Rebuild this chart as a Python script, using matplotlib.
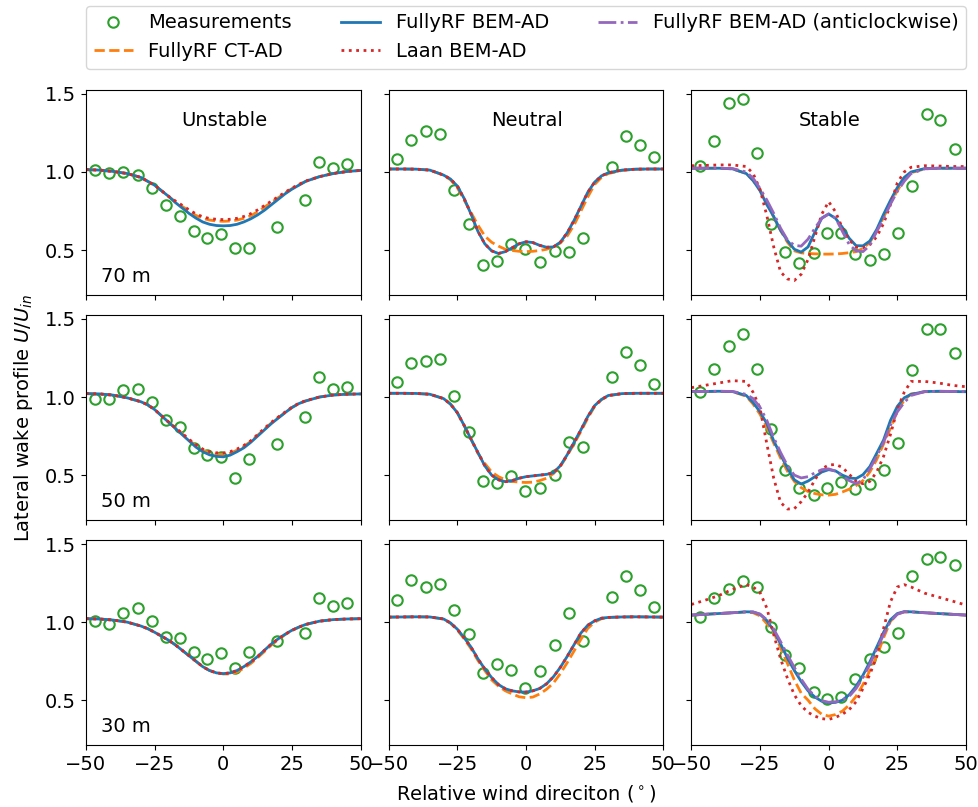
import matplotlib
matplotlib.use("Agg")
import matplotlib.pyplot as plt

# angle grid of the model curves (deg)
ang = [-50, -45, -40, -35, -30, -27.5, -25, -22.5, -20, -17.5, -15, -12.5, -10, -7.5, -5, -2.5, 0,
       2.5, 5, 7.5, 10, 12.5, 15, 17.5, 20, 22.5, 25, 27.5, 30, 35, 40, 45, 50]

# measurement angles per stability class
ang_unstable = [-46.7, -41.5, -36.4, -31.2, -26.1, -21.0, -15.9, -10.8, -5.8, -0.7, 4.4, 9.5,
                19.7, 29.7, 35.0, 40.0, 45.2]
ang_neutral = [-47.0, -41.8, -36.5, -31.2, -26.1, -20.9, -15.7, -10.5, -5.4, -0.2, 5.2, 10.4,
               15.6, 20.8, 31.2, 36.4, 41.5, 46.7]
ang_stable = [-47.0, -41.6, -36.4, -31.3, -26.2, -21.0, -15.8, -10.7, -5.4, -0.5, 4.5, 9.7,
              15.0, 20.2, 25.3, 30.4, 35.7, 40.7, 46.0]

# measurements
meas_u70 = [1.01, 0.996, 1.002, 0.983, 0.90, 0.788, 0.72, 0.624, 0.577, 0.604, 0.51, 0.51,
            0.649, 0.818, 1.066, 1.026, 1.049]
meas_u50 = [0.99, 0.985, 1.043, 1.049, 0.968, 0.853, 0.805, 0.672, 0.626, 0.613, 0.483, 0.604,
            0.70, 0.87, 1.128, 1.049, 1.062]
meas_u30 = [1.006, 0.985, 1.056, 1.092, 1.006, 0.907, 0.896, 0.806, 0.761, 0.80, 0.704, 0.811,
            0.878, 0.932, 1.156, 1.105, 1.12]
meas_n70 = [1.085, 1.203, 1.265, 1.244, 0.887, 0.669, 0.404, 0.427, 0.536, 0.506, 0.425, 0.494,
            0.49, 0.579, 1.03, 1.233, 1.175, 1.094]
meas_n50 = [1.096, 1.215, 1.228, 1.245, 1.006, 0.777, 0.462, 0.451, 0.496, 0.396, 0.415, 0.504,
            0.711, 0.681, 1.126, 1.29, 1.202, 1.083]
meas_n30 = [1.139, 1.269, 1.224, 1.241, 1.075, 0.921, 0.676, 0.729, 0.691, 0.58, 0.687, 0.851,
            1.06, 0.878, 1.16, 1.294, 1.207, 1.096]
meas_s70 = [1.04, 1.20, 1.442, 1.47, 1.122, 0.67, 0.485, 0.419, 0.478, 0.606, 0.606, 0.474,
            0.438, 0.476, 0.611, 0.912, 1.372, 1.331, 1.149]
meas_s50 = [1.032, 1.177, 1.33, 1.405, 1.179, 0.794, 0.53, 0.417, 0.372, 0.419, 0.457, 0.409,
            0.441, 0.53, 0.704, 1.172, 1.437, 1.437, 1.283]
meas_s30 = [1.032, 1.156, 1.209, 1.262, 1.228, 0.968, 0.787, 0.704, 0.555, 0.505, 0.52, 0.638,
            0.766, 0.84, 0.932, 1.294, 1.406, 1.418, 1.363]

# FullyRF CT-AD
ct_u70 = [1.015, 1.012, 1.003, 0.99, 0.965, 0.94, 0.915, 0.88, 0.845, 0.81, 0.78, 0.75, 0.722,
          0.703, 0.692, 0.686, 0.684, 0.686, 0.692, 0.703, 0.72, 0.745, 0.775, 0.805, 0.835,
          0.865, 0.893, 0.917, 0.94, 0.97, 0.99, 1.003, 1.01]
ct_u50 = [1.022, 1.02, 1.012, 0.995, 0.97, 0.95, 0.92, 0.88, 0.84, 0.802, 0.765, 0.725, 0.688,
          0.66, 0.642, 0.634, 0.632, 0.64, 0.66, 0.684, 0.716, 0.755, 0.795, 0.834, 0.868, 0.9,
          0.933, 0.958, 0.975, 1.0, 1.013, 1.018, 1.02]
ct_u30 = [1.022, 1.02, 1.013, 1.0, 0.975, 0.958, 0.935, 0.91, 0.885, 0.855, 0.82, 0.785, 0.75,
          0.715, 0.69, 0.675, 0.668, 0.668, 0.68, 0.705, 0.735, 0.772, 0.812, 0.853, 0.888,
          0.92, 0.946, 0.967, 0.985, 1.006, 1.016, 1.02, 1.022]
ct_n70 = [1.019, 1.019, 1.018, 1.012, 0.98, 0.95, 0.9, 0.82, 0.74, 0.66, 0.59, 0.55, 0.525,
          0.505, 0.497, 0.492, 0.49, 0.492, 0.497, 0.505, 0.52, 0.545, 0.59, 0.66, 0.75, 0.84,
          0.92, 0.965, 0.99, 1.01, 1.017, 1.019, 1.019]
ct_n50 = [1.024, 1.024, 1.023, 1.018, 0.99, 0.955, 0.9, 0.818, 0.73, 0.64, 0.575, 0.52, 0.49,
          0.47, 0.46, 0.455, 0.453, 0.455, 0.465, 0.48, 0.51, 0.555, 0.625, 0.70, 0.78, 0.865,
          0.94, 0.983, 1.008, 1.022, 1.024, 1.024, 1.024]
ct_n30 = [1.032, 1.033, 1.034, 1.033, 1.02, 0.993, 0.95, 0.893, 0.83, 0.755, 0.69, 0.63, 0.59,
          0.56, 0.54, 0.522, 0.516, 0.52, 0.54, 0.57, 0.61, 0.67, 0.74, 0.815, 0.89, 0.96,
          1.0, 1.022, 1.03, 1.033, 1.034, 1.033, 1.032]
ct_s70 = [1.024, 1.024, 1.024, 1.02, 0.99, 0.945, 0.885, 0.805, 0.71, 0.625, 0.55, 0.495, 0.482,
          0.478, 0.476, 0.474, 0.474, 0.475, 0.478, 0.483, 0.49, 0.51, 0.55, 0.62, 0.71, 0.80,
          0.88, 0.95, 0.995, 1.02, 1.024, 1.024, 1.024]
ct_s50 = [1.035, 1.035, 1.035, 1.035, 1.005, 0.955, 0.89, 0.805, 0.705, 0.61, 0.525, 0.46, 0.42,
          0.395, 0.382, 0.374, 0.372, 0.377, 0.392, 0.41, 0.433, 0.465, 0.52, 0.60, 0.70, 0.80,
          0.91, 0.98, 1.02, 1.034, 1.035, 1.035, 1.035]
ct_s30 = [1.045, 1.05, 1.055, 1.06, 1.065, 1.06, 1.04, 0.99, 0.935, 0.835, 0.735, 0.63, 0.545,
          0.50, 0.445, 0.41, 0.398, 0.408, 0.43, 0.47, 0.525, 0.60, 0.69, 0.78, 0.90, 1.005,
          1.052, 1.065, 1.066, 1.06, 1.055, 1.05, 1.045]

# FullyRF BEM-AD
bem_u70 = [1.015, 1.012, 1.003, 0.99, 0.965, 0.94, 0.915, 0.88, 0.845, 0.805, 0.77, 0.735, 0.705,
           0.68, 0.665, 0.657, 0.655, 0.657, 0.665, 0.68, 0.70, 0.725, 0.755, 0.79, 0.825, 0.86,
           0.89, 0.915, 0.94, 0.97, 0.99, 1.003, 1.01]
bem_u50 = [1.022, 1.02, 1.012, 0.995, 0.97, 0.95, 0.92, 0.88, 0.84, 0.80, 0.76, 0.72, 0.68,
           0.65, 0.63, 0.62, 0.617, 0.628, 0.65, 0.675, 0.71, 0.75, 0.79, 0.83, 0.865, 0.90,
           0.933, 0.958, 0.975, 1.0, 1.013, 1.018, 1.02]
bem_u30 = [1.022, 1.02, 1.013, 1.0, 0.975, 0.958, 0.935, 0.91, 0.885, 0.855, 0.82, 0.785, 0.75,
           0.715, 0.69, 0.675, 0.67, 0.675, 0.69, 0.715, 0.745, 0.78, 0.82, 0.86, 0.893, 0.922,
           0.948, 0.968, 0.985, 1.006, 1.016, 1.02, 1.022]
bem_n70 = [1.019, 1.019, 1.018, 1.012, 0.98, 0.955, 0.91, 0.83, 0.73, 0.62, 0.54, 0.495, 0.478,
           0.49, 0.515, 0.54, 0.553, 0.548, 0.53, 0.518, 0.52, 0.55, 0.61, 0.69, 0.78, 0.87,
           0.935, 0.975, 0.995, 1.012, 1.018, 1.019, 1.019]
bem_n50 = [1.024, 1.024, 1.023, 1.018, 0.99, 0.955, 0.90, 0.818, 0.73, 0.645, 0.56, 0.50, 0.47,
           0.458, 0.465, 0.48, 0.49, 0.495, 0.50, 0.505, 0.515, 0.56, 0.63, 0.71, 0.79, 0.875,
           0.945, 0.985, 1.01, 1.022, 1.024, 1.024, 1.024]
bem_n30 = [1.032, 1.033, 1.034, 1.033, 1.02, 0.995, 0.955, 0.90, 0.84, 0.765, 0.70, 0.645, 0.60,
           0.573, 0.56, 0.553, 0.552, 0.56, 0.575, 0.605, 0.65, 0.71, 0.78, 0.855, 0.93, 0.98,
           1.008, 1.025, 1.03, 1.033, 1.034, 1.033, 1.032]
bem_s70 = [1.024, 1.024, 1.024, 1.02, 0.99, 0.945, 0.88, 0.79, 0.715, 0.626, 0.56, 0.505, 0.487,
           0.52, 0.615, 0.705, 0.731, 0.703, 0.645, 0.575, 0.528, 0.527, 0.558, 0.632, 0.729,
           0.818, 0.90, 0.965, 1.0, 1.022, 1.024, 1.024, 1.024]
bem_s50 = [1.035, 1.036, 1.037, 1.035, 1.01, 0.965, 0.905, 0.83, 0.72, 0.63, 0.545, 0.47, 0.443,
           0.462, 0.49, 0.52, 0.535, 0.527, 0.50, 0.482, 0.478, 0.503, 0.555, 0.64, 0.725, 0.85,
           0.94, 0.995, 1.017, 1.035, 1.037, 1.035, 1.034]
bem_s30 = [1.045, 1.05, 1.055, 1.06, 1.066, 1.065, 1.05, 1.01, 0.945, 0.86, 0.77, 0.69, 0.62,
           0.56, 0.52, 0.493, 0.483, 0.486, 0.50, 0.535, 0.59, 0.66, 0.745, 0.84, 0.935, 1.015,
           1.055, 1.067, 1.066, 1.06, 1.055, 1.05, 1.045]

# Laan BEM-AD
laan_u70 = [1.015, 1.012, 1.003, 0.99, 0.965, 0.94, 0.915, 0.88, 0.845, 0.815, 0.787, 0.758,
            0.732, 0.713, 0.702, 0.697, 0.695, 0.697, 0.703, 0.715, 0.733, 0.757, 0.785, 0.813,
            0.842, 0.87, 0.897, 0.92, 0.942, 0.97, 0.99, 1.003, 1.01]
laan_u50 = [1.022, 1.02, 1.012, 0.995, 0.97, 0.95, 0.92, 0.88, 0.842, 0.805, 0.768, 0.73,
            0.695, 0.667, 0.65, 0.643, 0.642, 0.65, 0.667, 0.69, 0.72, 0.76, 0.80, 0.838, 0.872,
            0.904, 0.935, 0.96, 0.977, 1.0, 1.013, 1.018, 1.02]
laan_u30 = [1.022, 1.02, 1.013, 1.0, 0.975, 0.958, 0.935, 0.91, 0.885, 0.855, 0.82, 0.785, 0.75,
            0.715, 0.69, 0.675, 0.67, 0.675, 0.69, 0.715, 0.745, 0.78, 0.82, 0.86, 0.893, 0.922,
            0.948, 0.968, 0.985, 1.006, 1.016, 1.02, 1.022]
laan_n70 = [1.019, 1.019, 1.018, 1.012, 0.98, 0.955, 0.91, 0.83, 0.73, 0.62, 0.54, 0.495, 0.478,
            0.49, 0.515, 0.54, 0.553, 0.548, 0.53, 0.518, 0.52, 0.55, 0.61, 0.69, 0.78, 0.87,
            0.935, 0.975, 0.995, 1.012, 1.018, 1.019, 1.019]
laan_n50 = [1.024, 1.024, 1.023, 1.018, 0.99, 0.955, 0.90, 0.818, 0.73, 0.645, 0.56, 0.50, 0.47,
            0.458, 0.465, 0.48, 0.49, 0.495, 0.50, 0.505, 0.515, 0.56, 0.63, 0.71, 0.79, 0.875,
            0.945, 0.985, 1.01, 1.022, 1.024, 1.024, 1.024]
laan_n30 = [1.032, 1.033, 1.034, 1.033, 1.02, 0.995, 0.955, 0.90, 0.84, 0.765, 0.70, 0.645,
            0.60, 0.573, 0.56, 0.553, 0.552, 0.56, 0.575, 0.605, 0.65, 0.71, 0.78, 0.855, 0.93,
            0.98, 1.008, 1.025, 1.03, 1.033, 1.034, 1.033, 1.032]
laan_s70 = [1.04, 1.042, 1.045, 1.045, 1.035, 0.99, 0.89, 0.72, 0.52, 0.36, 0.315, 0.305, 0.345,
            0.44, 0.585, 0.73, 0.81, 0.745, 0.64, 0.565, 0.52, 0.515, 0.535, 0.585, 0.67, 0.79,
            0.93, 1.0, 1.03, 1.04, 1.038, 1.035, 1.035]
laan_s50 = [1.06, 1.075, 1.09, 1.105, 1.10, 1.03, 0.93, 0.70, 0.48, 0.325, 0.283, 0.285, 0.33,
            0.39, 0.47, 0.54, 0.565, 0.568, 0.55, 0.505, 0.46, 0.445, 0.46, 0.52, 0.62, 0.76,
            0.92, 1.03, 1.10, 1.10, 1.09, 1.075, 1.066]
laan_s30 = [1.113, 1.14, 1.17, 1.21, 1.24, 1.225, 1.19, 1.09, 0.92, 0.765, 0.64, 0.535, 0.465,
            0.422, 0.398, 0.382, 0.377, 0.39, 0.41, 0.44, 0.49, 0.575, 0.665, 0.78, 0.96, 1.13,
            1.225, 1.24, 1.225, 1.185, 1.16, 1.135, 1.109]

# FullyRF BEM-AD (anticlockwise), stable only
anti_s70 = [1.024, 1.024, 1.024, 1.022, 1.0, 0.96, 0.895, 0.82, 0.735, 0.64, 0.565, 0.53, 0.525,
            0.57, 0.64, 0.703, 0.731, 0.705, 0.62, 0.535, 0.495, 0.49, 0.53, 0.62, 0.70, 0.795,
            0.875, 0.94, 0.99, 1.02, 1.024, 1.024, 1.024]
anti_s50 = [1.035, 1.036, 1.037, 1.036, 1.017, 0.99, 0.935, 0.85, 0.74, 0.645, 0.56, 0.50, 0.482,
            0.49, 0.515, 0.535, 0.54, 0.525, 0.495, 0.465, 0.445, 0.47, 0.54, 0.62, 0.71, 0.82,
            0.905, 0.965, 1.01, 1.035, 1.037, 1.036, 1.035]
anti_s30 = [1.045, 1.05, 1.055, 1.06, 1.066, 1.065, 1.052, 1.015, 0.955, 0.875, 0.79, 0.71,
            0.635, 0.57, 0.525, 0.497, 0.487, 0.49, 0.50, 0.525, 0.575, 0.645, 0.73, 0.825, 0.92,
            1.005, 1.05, 1.066, 1.066, 1.06, 1.055, 1.05, 1.045]

heights = ["70 m", "50 m", "30 m"]
classes = ["Unstable", "Neutral", "Stable"]
meas_angles = [ang_unstable, ang_neutral, ang_stable]
meas = [[meas_u70, meas_n70, meas_s70], [meas_u50, meas_n50, meas_s50], [meas_u30, meas_n30, meas_s30]]
ct = [[ct_u70, ct_n70, ct_s70], [ct_u50, ct_n50, ct_s50], [ct_u30, ct_n30, ct_s30]]
bem = [[bem_u70, bem_n70, bem_s70], [bem_u50, bem_n50, bem_s50], [bem_u30, bem_n30, bem_s30]]
laan = [[laan_u70, laan_n70, laan_s70], [laan_u50, laan_n50, laan_s50], [laan_u30, laan_n30, laan_s30]]
anti = [[None, None, anti_s70], [None, None, anti_s50], [None, None, anti_s30]]

plt.rcParams["font.size"] = 14

fig, axes = plt.subplots(3, 3, figsize=(9.79, 8.07), dpi=100, sharex=True, sharey=True)
fig.subplots_adjust(left=0.0878, right=0.9867, top=0.8885, bottom=0.0768,
                    wspace=0.102, hspace=0.0985)

for i in range(3):
    for j in range(3):
        ax = axes[i, j]
        ax.plot(meas_angles[j], meas[i][j], "o", mfc="none", mec="C2", ms=7.5, mew=1.5,
                label="Measurements")
        ax.plot(ang, ct[i][j], "--", color="C1", lw=2, label="FullyRF CT-AD")
        ax.plot(ang, bem[i][j], "-", color="C0", lw=2, label="FullyRF BEM-AD")
        ax.plot(ang, laan[i][j], ":", color="C3", lw=2, label="Laan BEM-AD")
        if anti[i][j] is not None:
            ax.plot(ang, anti[i][j], "-.", color="C4", lw=2,
                    label="FullyRF BEM-AD (anticlockwise)")
        if i == 0:
            ax.text(0.505, 0.826, classes[j], transform=ax.transAxes, ha="center",
                    va="baseline")
        if j == 0:
            ax.text(0.055, 0.063, heights[i], transform=ax.transAxes, ha="left",
                    va="baseline")

axes[0, 0].set_xlim(-50, 50)
axes[0, 0].set_ylim(0.213, 1.525)
axes[0, 0].set_xticks([-50, -25, 0, 25, 50])
axes[0, 0].set_yticks([0.5, 1.0, 1.5])

axes[2, 1].set_xlabel(r"Relative wind direciton ($^\circ$)", labelpad=7)
axes[1, 0].set_ylabel(r"Lateral wake profile $U/U_{in}$", labelpad=7)

handles, labels = axes[0, 2].get_legend_handles_labels()
fig.legend(handles, labels, loc="lower left", bbox_to_anchor=(0.0878, 0.9145, 0.899, 0.07),
           mode="expand", ncol=3, borderaxespad=0)

fig.savefig("out.png", dpi=100)
